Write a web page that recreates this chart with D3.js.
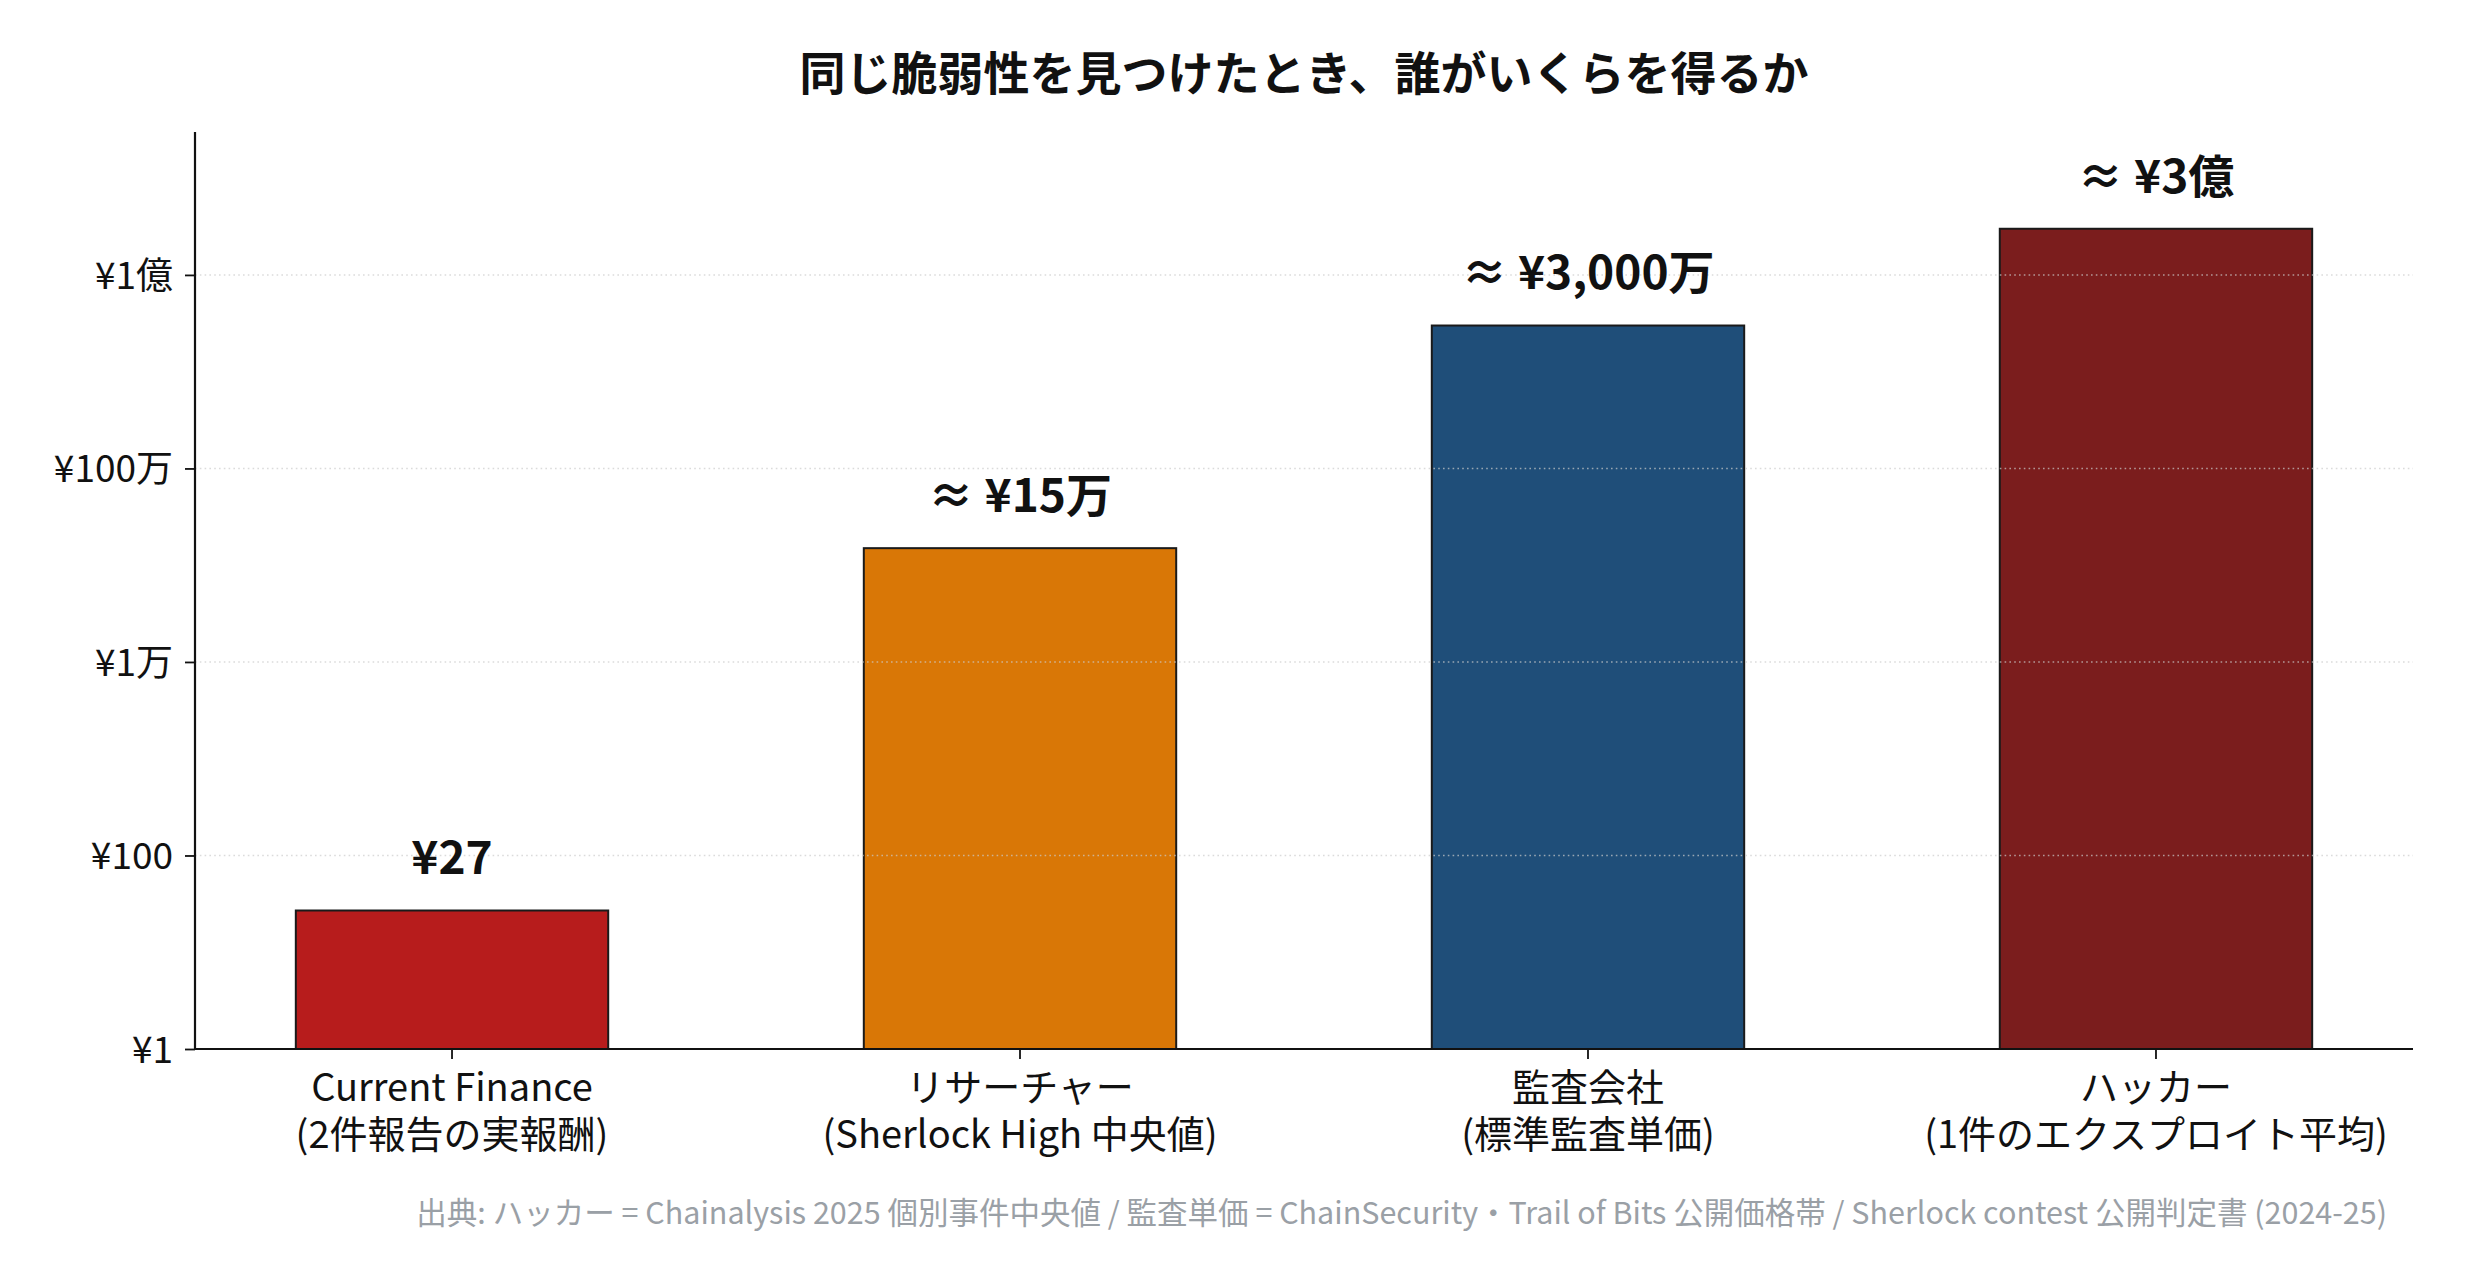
<!DOCTYPE html>
<html>
<head>
<meta charset="utf-8">
<script src="https://cdn.jsdelivr.net/npm/d3@7"></script>
<style>
  html, body { margin: 0; padding: 0; background: #fff; }
  svg text { font-family: 'Noto Sans CJK JP', 'Noto Sans', sans-serif; }
</style>
</head>
<body>
<div id="vis"></div>
<script>
// chart data
const categories = [
  ['Current Finance', '(2件報告の実報酬)'],
  ['リサーチャー', '(Sherlock High 中央値)'],
  ['監査会社', '(標準監査単価)'],
  ['ハッカー', '(1件のエクスプロイト平均)']
]
const values = [27, 150000, 30000000, 300000000]
const valueLabels = ['¥27', '≈ ¥15万', '≈ ¥3,000万', '≈ ¥3億']
const barColors = ['#b71c1c', '#d97706', '#1f4e79', '#7b1d1d']
const yTickValues = [1, 100, 1e4, 1e6, 1e8]
const yTickLabels = ['¥1', '¥100', '¥1万', '¥100万', '¥1億']
const yDomain = [1, 3e9]

const title = '同じ脆弱性を見つけたとき、誰がいくらを得るか'
const source = '出典: ハッカー = Chainalysis 2025 個別事件中央値 / 監査単価 = ChainSecurity・Trail of Bits 公開価格帯 / Sherlock contest 公開判定書 (2024-25)'

const W = 2466,
  H = 1283
const margin = { left: 195, right: 53, top: 132, bottom: 234 }

const svg = d3.select('#vis').append('svg').attr('width', W).attr('height', H)

const x = d3
  .scaleBand()
  .domain(d3.range(values.length))
  .range([margin.left, W - margin.right])
  .paddingInner(0.45)
  .paddingOuter(0.1775)

const y = d3
  .scaleLog()
  .domain(yDomain)
  .range([H - margin.bottom, margin.top])

// bars
svg
  .append('g')
  .selectAll('rect')
  .data(values)
  .enter()
  .append('rect')
  .attr('x', (d, i) => x(i))
  .attr('width', x.bandwidth())
  .attr('y', (d) => y(d))
  .attr('height', (d) => y(yDomain[0]) - y(d))
  .attr('fill', (d, i) => barColors[i])
  .attr('stroke', '#1a1a1a')
  .attr('stroke-width', 2)

// dotted grid (drawn over bars like the original)
svg
  .append('g')
  .selectAll('line')
  .data(yTickValues.slice(1))
  .enter()
  .append('line')
  .attr('x1', margin.left)
  .attr('x2', W - margin.right)
  .attr('y1', (d) => y(d))
  .attr('y2', (d) => y(d))
  .attr('stroke', '#cccccc')
  .attr('stroke-opacity', 0.7)
  .attr('stroke-width', 1.6)
  .attr('stroke-dasharray', '1.6,3.2')

// y axis
const yAxis = svg
  .append('g')
  .attr('transform', 'translate(' + margin.left + ',0)')
  .call(
    d3
      .axisLeft(y)
      .tickValues(yTickValues)
      .tickFormat((d, i) => yTickLabels[i])
      .tickSize(10)
      .tickPadding(12)
  )
yAxis.select('.domain').attr('stroke', '#111').attr('stroke-width', 2.2).attr('d', 'M0,' + margin.top + 'V' + (H - margin.bottom))
yAxis.selectAll('.tick line').attr('stroke', '#111').attr('stroke-width', 1.8)
yAxis
  .selectAll('.tick text')
  .attr('fill', '#111')
  .style('font-size', '37px')
  .attr('dy', '0.36em')

// x axis
const xAxis = svg
  .append('g')
  .attr('transform', 'translate(0,' + (H - margin.bottom) + ')')
  .call(d3.axisBottom(x).tickSize(10).tickFormat(''))
xAxis.select('.domain').attr('stroke', '#111').attr('stroke-width', 2.2).attr('d', 'M' + margin.left + ',0H' + (W - margin.right))
xAxis.selectAll('.tick line').attr('stroke', '#111').attr('stroke-width', 1.8)

const xLabels = svg
  .append('g')
  .selectAll('text')
  .data(categories)
  .enter()
  .append('text')
  .attr('text-anchor', 'middle')
  .attr('fill', '#111')
  .style('font-size', '38px')
  .attr('transform', (d, i) => 'translate(' + (x(i) + x.bandwidth() / 2) + ',' + (H - margin.bottom + 52) + ')')
xLabels
  .selectAll('tspan')
  .data((d) => d)
  .enter()
  .append('tspan')
  .attr('x', 0)
  .attr('y', (d, j) => j * 47)
  .text((d) => d)

// value labels above bars
svg
  .append('g')
  .selectAll('text')
  .data(values)
  .enter()
  .append('text')
  .attr('x', (d, i) => x(i) + x.bandwidth() / 2)
  .attr('y', (d) => y(d * 2) - 7)
  .attr('text-anchor', 'middle')
  .attr('fill', '#111')
  .style('font-size', '46px')
  .style('font-weight', 'bold')
  .text((d, i) => valueLabels[i])

// title
svg
  .append('text')
  .attr('x', (margin.left + W - margin.right) / 2)
  .attr('y', 90)
  .attr('text-anchor', 'middle')
  .attr('fill', '#111')
  .style('font-size', '46px')
  .style('font-weight', 'bold')
  .text(title)

// source note
svg
  .append('text')
  .attr('x', 2387)
  .attr('y', 1224)
  .attr('text-anchor', 'end')
  .attr('fill', '#9aa0a6')
  .style('font-size', '30.5px')
  .text(source)
</script>
</body>
</html>
